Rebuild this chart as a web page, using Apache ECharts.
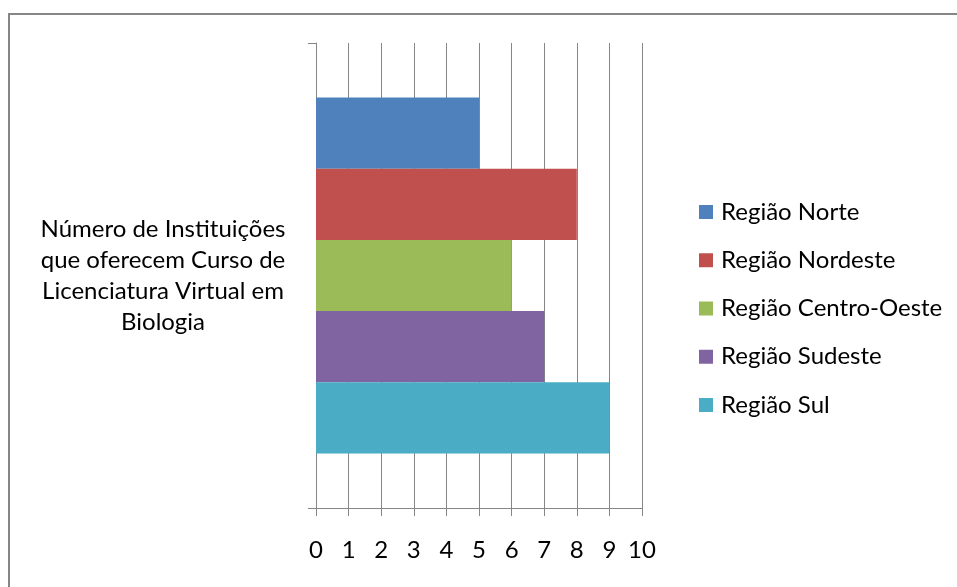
<!DOCTYPE html>
<html>
<head>
<meta charset="utf-8">
<script src="https://cdn.jsdelivr.net/npm/echarts@6/dist/echarts.min.js"></script>
<style>
  html, body { margin: 0; padding: 0; background: #fff; }
  #chart { width: 957px; height: 587px; }
</style>
</head>
<body>
<div id="chart"></div>
<script>
// Category on the vertical axis (single group)
const categories = ['Número de Instituições\nque oferecem Curso de\nLicenciatura Virtual em\nBiologia'];
// One series per region
const seriesNames = ['Região Norte', 'Região Nordeste', 'Região Centro-Oeste', 'Região Sudeste', 'Região Sul'];
const seriesValues = [[5], [8], [6], [7], [9]];
const seriesColors = ['#4F81BD', '#C0504D', '#9BBB59', '#8064A2', '#4BACC6'];
// Value axis range
const xMin = 0, xMax = 10, xStep = 1;

const gray = '#868686';
const font = 'Lato, "Open Sans", sans-serif';

const chart = echarts.init(document.getElementById('chart'), null, { renderer: 'canvas' });

chart.setOption({
  animation: false,
  backgroundColor: '#fff',
  textStyle: { fontFamily: font },
  graphic: [{
    // outer frame: only its top and left edges fall inside the canvas
    type: 'rect',
    shape: { x: 9, y: 14, width: 1200, height: 1200 },
    style: { fill: 'none', stroke: gray, lineWidth: 2 },
    silent: true
  }],
  grid: { left: 316, right: 315, top: 43, bottom: 79 },
  legend: {
    orient: 'vertical',
    left: 694,
    top: 195,
    itemWidth: 14,
    itemHeight: 14,
    itemGap: 24.25,
    icon: 'rect',
    textStyle: { fontSize: 24, color: '#000', fontFamily: font, lineHeight: 24, padding: [0, 0, 0, 3] },
    data: seriesNames
  },
  xAxis: {
    type: 'value',
    min: xMin, max: xMax, interval: xStep,
    axisLine: { show: true, lineStyle: { color: gray, width: 1 } },
    axisTick: { show: true, length: 8, lineStyle: { color: gray } },
    splitLine: { show: true, lineStyle: { color: gray, width: 1 } },
    axisLabel: { fontSize: 24, color: '#000', margin: 30, fontFamily: font }
  },
  yAxis: {
    type: 'category',
    inverse: true,
    data: categories,
    axisLine: { show: true, lineStyle: { color: gray, width: 1 } },
    axisTick: { show: true, length: 8, lineStyle: { color: gray } },
    axisLabel: {
      fontSize: 24, color: '#000', fontFamily: font,
      align: 'center', margin: 153, lineHeight: 31
    }
  },
  series: seriesNames.map((name, i) => ({
    name: name,
    type: 'bar',
    data: seriesValues[i],
    itemStyle: { color: seriesColors[i] },
    barGap: 0,
    barCategoryGap: '23.4%'
  }))
});
</script>
</body>
</html>
